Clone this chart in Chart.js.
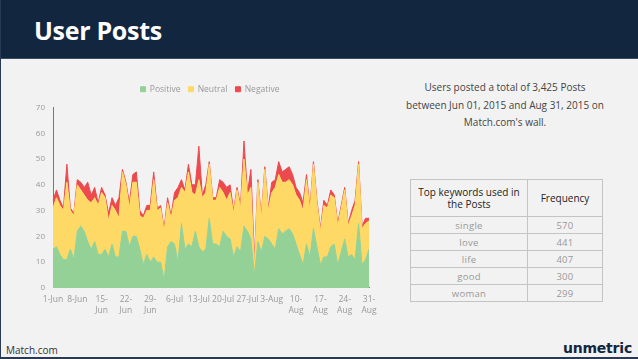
<!DOCTYPE html>
<html lang="en">
<head>
  <meta charset="UTF-8">
  <title>User Posts</title>
  <script src="https://cdn.jsdelivr.net/npm/chart.js"></script>
  <style>
    body { margin: 0; background: #f2f2f2; }
    #slide {
      position: relative;
      width: 638px;
      height: 359px;
      background: #f2f2f2;
      overflow: hidden;
      font-family: "Open Sans", sans-serif;
      box-sizing: border-box;
      border-left: 1px solid #2a3a50;
      border-bottom: 2px solid #2a3a50;
    }
    #header {
      position: absolute;
      left: 0; top: 0;
      width: 638px; height: 58px;
      background: #13263f;
      border-bottom: 1px solid #3a4b60;
    }
    #header h1 {
      margin: 0;
      position: absolute;
      left: 33px; top: 13px;
      font-size: 25px;
      font-weight: 700;
      color: #fff;
      letter-spacing: -0.3px;
    }
    #chartBox {
      position: absolute;
      left: 30px; top: 77px;
      width: 358px; height: 245px;
    }
    #summary {
      position: absolute;
      left: 404px; top: 79px;
      width: 200px;
      text-align: center;
      font-size: 10px;
      line-height: 17.5px;
      color: #444;
    }
    #keywords {
      position: absolute;
      left: 409px; top: 179px;
      border-collapse: collapse;
      font-size: 9.5px;
    }
    #keywords th, #keywords td {
      border: 1px solid #c4c4c4;
      text-align: center;
      padding: 0;
    }
    #keywords th {
      height: 36px;
      font-weight: 400;
      color: #222;
      font-size: 10px;
      line-height: 12px;
    }
    #keywords td {
      height: 16px;
      color: #999;
      letter-spacing: 0.3px;
    }
    #source {
      position: absolute;
      left: 5px; top: 343px;
      font-size: 10px;
      color: #333;
    }
    #brand {
      position: absolute;
      right: 6px; top: 340px;
      font-family: "DejaVu Sans", sans-serif;
      font-size: 14px;
      font-weight: 700;
      color: #13263f;
      letter-spacing: -0.2px;
    }
  </style>
</head>
<body>
  <div id="slide">
    <div id="header"><h1>User Posts</h1></div>
    <div id="chartBox"><canvas id="postsChart"></canvas></div>
    <div id="summary">
      Users posted a total of 3,425 Posts<br>
      between Jun 01, 2015 and Aug 31, 2015 on<br>
      Match.com's wall.
    </div>
    <table id="keywords">
      <thead>
        <tr>
          <th style="width:116px">Top keywords used in<br>the Posts</th>
          <th style="width:74px">Frequency</th>
        </tr>
      </thead>
      <tbody id="keywordRows"></tbody>
    </table>
    <div id="source">Match.com</div>
    <div id="brand">unmetric</div>
  </div>

  <script>
    // daily posts, 1 Jun - 31 Aug 2015
    const positive = [15,16,13,11,11,15,11,22,24,22,18,15,18,13,13,15,12,17,12,12,
      22,22,16,20,20,15,9,13,10,12,10,10,3,16,18,17,10,25,15,17,
      16,22,16,14,15,27,17,17,16,22,20,19,12,16,14,24,22,19,5,18,
      14,20,19,17,15,23,21,22,23,21,17,13,9,17,12,23,16,9,12,12,
      16,17,9,14,19,12,13,11,25,9,11,15];
    const neutral = [16,19,19,19,30,15,17,18,14,14,16,18,17,19,24,20,14,15,18,15,
      23,18,15,21,21,13,18,17,20,30,20,21,19,17,9,17,25,14,22,28,
      21,14,26,21,22,21,17,17,23,15,14,18,17,22,17,26,14,20,3,23,
      13,26,11,20,24,21,20,19,19,19,19,21,21,25,18,25,17,13,20,19,
      20,18,15,17,19,12,15,21,23,14,14,11];
    const negative = [3,3,2,1,7,1,1,2,3,3,7,3,4,1,2,1,3,3,2,8,
      1,1,2,3,4,2,1,2,2,3,1,1,1,2,1,3,4,3,1,3,
      3,4,13,1,3,1,1,1,3,4,5,3,1,1,1,7,1,7,3,1,
      1,1,1,4,3,5,4,5,5,4,3,3,3,2,1,1,1,1,2,1,
      2,1,1,1,1,1,2,2,1,1,2,1];

    const tickLabels = ["1-Jun", "8-Jun", ["15-", "Jun"], ["22-", "Jun"], ["29-", "Jun"],
      "6-Jul", "13-Jul", "20-Jul", "27-Jul", "3-Aug",
      ["10-", "Aug"], ["17-", "Aug"], ["24-", "Aug"], ["31-", "Aug"]];

    const keywords = ["single", "love", "life", "good", "woman"];
    const frequency = [570, 441, 407, 300, 299];

    // one category per day
    const months = ["Jan","Feb","Mar","Apr","May","Jun","Jul","Aug","Sep","Oct","Nov","Dec"];
    const days = [];
    for (let d = new Date(2015, 5, 1); d <= new Date(2015, 7, 31); d.setDate(d.getDate() + 1)) {
      days.push(d.getDate() + "-" + months[d.getMonth()]);
    }

    const rows = document.getElementById("keywordRows");
    keywords.forEach((k, i) => {
      const tr = document.createElement("tr");
      tr.innerHTML = `<td>${k}</td><td>${frequency[i]}</td>`;
      rows.appendChild(tr);
    });

    // a little extra room under the legend
    const legendGap = {
      id: "legendGap",
      beforeInit(chart) {
        const fit = chart.legend.fit;
        chart.legend.fit = function () {
          fit.bind(chart.legend)();
          this.height += 4;
        };
      }
    };

    const ctx = document.getElementById("postsChart").getContext("2d");
    new Chart(ctx, {
      type: "line",
      data: {
        labels: days,
        datasets: [
          { label: "Positive", data: positive, backgroundColor: "#93d197", borderColor: "#93d197", fill: "origin" },
          { label: "Neutral", data: neutral, backgroundColor: "#ffd966", borderColor: "#ffd966", fill: "-1" },
          { label: "Negative", data: negative, backgroundColor: "#ec4a4e", borderColor: "#ec4a4e", fill: "-1" }
        ]
      },
      plugins: [legendGap],
      options: {
        responsive: true,
        maintainAspectRatio: false,
        animation: false,
        elements: {
          point: { radius: 0 },
          line: { borderWidth: 1, tension: 0 }
        },
        plugins: {
          legend: {
            display: true,
            labels: {
              boxWidth: 5,
              boxHeight: 5,
              padding: 8,
              color: "#999",
              font: { family: "Open Sans", size: 8.5 }
            }
          },
          tooltip: { enabled: false }
        },
        scales: {
          x: {
            grid: { display: false, drawTicks: false },
            border: { display: true, color: "#777" },
            ticks: {
              autoSkip: false,
              maxRotation: 0,
              padding: 6,
              color: "#999",
              font: { family: "Open Sans", size: 8.5, lineHeight: 1.3 },
              callback: (v, i) => (i % 7 === 0 ? tickLabels[i / 7] : null)
            },
            afterFit: (scale) => { scale.paddingRight = 20; }
          },
          y: {
            stacked: true,
            min: 0,
            max: 70,
            grid: { display: false, drawTicks: false },
            border: { display: true, color: "#777" },
            ticks: {
              stepSize: 10,
              padding: 8,
              color: "#999",
              font: { family: "Open Sans", size: 8 }
            },
            afterFit: (scale) => { scale.width = 22; }
          }
        }
      }
    });
  </script>
</body>
</html>
